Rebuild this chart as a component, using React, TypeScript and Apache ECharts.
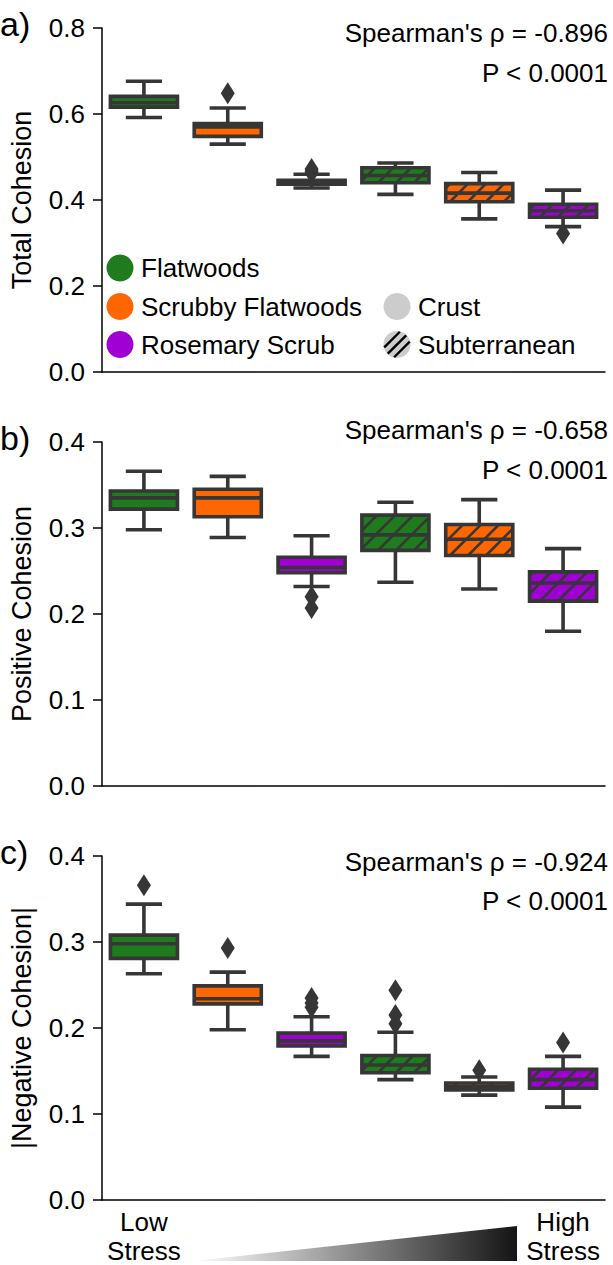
import React, { useEffect, useRef } from 'react';
import * as echarts from 'echarts';

// ---------- data ----------
const categories = [
  'Flatwoods Crust',
  'Scrubby Flatwoods Crust',
  'Rosemary Scrub Crust',
  'Flatwoods Subterranean',
  'Scrubby Flatwoods Subterranean',
  'Rosemary Scrub Subterranean',
];
const xTickLabels = ['Low\nStress', '', '', '', '', 'High\nStress'];

// [min, q1, median, q3, max]
const totalBoxes = [
  [0.592, 0.616, 0.626, 0.641, 0.676],
  [0.530, 0.548, 0.570, 0.578, 0.614],
  [0.428, 0.437, 0.441, 0.446, 0.460],
  [0.413, 0.440, 0.457, 0.475, 0.486],
  [0.356, 0.396, 0.416, 0.438, 0.464],
  [0.338, 0.360, 0.375, 0.390, 0.423],
];
const totalOutliers = [
  [1, 0.648],
  [2, 0.472],
  [2, 0.467],
  [2, 0.463],
  [5, 0.322],
];

const positiveBoxes = [
  [0.298, 0.322, 0.335, 0.343, 0.366],
  [0.289, 0.313, 0.335, 0.345, 0.360],
  [0.232, 0.248, 0.254, 0.266, 0.291],
  [0.237, 0.274, 0.292, 0.315, 0.330],
  [0.229, 0.268, 0.287, 0.304, 0.333],
  [0.180, 0.215, 0.236, 0.249, 0.276],
];
const positiveOutliers = [
  [2, 0.220],
  [2, 0.207],
];

const negativeBoxes = [
  [0.263, 0.281, 0.298, 0.308, 0.344],
  [0.198, 0.228, 0.234, 0.249, 0.265],
  [0.167, 0.179, 0.185, 0.194, 0.213],
  [0.140, 0.148, 0.157, 0.168, 0.195],
  [0.122, 0.128, 0.132, 0.136, 0.143],
  [0.108, 0.130, 0.140, 0.152, 0.167],
];
const negativeOutliers = [
  [0, 0.366],
  [1, 0.293],
  [2, 0.235],
  [2, 0.229],
  [2, 0.224],
  [3, 0.244],
  [3, 0.215],
  [3, 0.205],
  [4, 0.151],
  [5, 0.183],
];

const habitatNames = ['Flatwoods', 'Scrubby Flatwoods', 'Rosemary Scrub'];
const habitatColors = ['#1e7b1e', '#ff6600', '#a100d4'];
const layerNames = ['Crust', 'Subterranean'];

const panelLabels = ['a)', 'b)', 'c)'];
const yNames = ['Total Cohesion', 'Positive Cohesion', '|Negative Cohesion|'];
const yMax = [0.8, 0.4, 0.4];
const yStep = [0.2, 0.1, 0.1];
const rhoTexts = ["Spearman's ρ = -0.896", "Spearman's ρ = -0.658", "Spearman's ρ = -0.924"];
const pTexts = ['P < 0.0001', 'P < 0.0001', 'P < 0.0001'];

// ---------- styling ----------
const FONT = '"Liberation Sans", Arial, Helvetica, sans-serif';
const EDGE = '#363636';
const LW = 3.6;
const HATCH = 18;
const GRID_LEFT = 95;
const GRID_W = 510;
const GRID_H = 344;
const GRID_TOPS = [28, 442, 856];
const RHO_DY = [5, -12, 6];
const P_DY = [45, 28, 45];

function renderBox(params: any, api: any) {
  const i = api.value(0);
  const pMin = api.coord([i, api.value(1)]);
  const xc = pMin[0];
  const yMin = pMin[1];
  const yQ1 = api.coord([i, api.value(2)])[1];
  const yMed = api.coord([i, api.value(3)])[1];
  const yQ3 = api.coord([i, api.value(4)])[1];
  const yMx = api.coord([i, api.value(5)])[1];
  const band = api.size([1, 0])[0];
  const w = band * 0.8;
  const x0 = xc - w / 2;
  const x1 = xc + w / 2;
  const cap = w * 0.27;
  const color = habitatColors[i % 3];
  const hatched = i >= 3;
  const ls = { stroke: EDGE, lineWidth: LW, fill: 'none' };
  const h = yQ1 - yQ3;
  const children: any[] = [
    { type: 'line', shape: { x1: xc, y1: yMx, x2: xc, y2: yQ3 }, style: ls },
    { type: 'line', shape: { x1: xc, y1: yQ1, x2: xc, y2: yMin }, style: ls },
    { type: 'line', shape: { x1: xc - cap, y1: yMx, x2: xc + cap, y2: yMx }, style: ls },
    { type: 'line', shape: { x1: xc - cap, y1: yMin, x2: xc + cap, y2: yMin }, style: ls },
    { type: 'rect', shape: { x: x0, y: yQ3, width: w, height: h }, style: { fill: color, stroke: 'none' } },
  ];
  if (hatched) {
    const start = Math.floor((x0 - h) / HATCH) * HATCH;
    for (let xb = start; xb < x1; xb += HATCH) {
      const tMin = Math.max(0, x0 - xb);
      const tMax = Math.min(h, x1 - xb);
      if (tMax > tMin) {
        children.push({
          type: 'line',
          shape: { x1: xb + tMin, y1: yQ1 - tMin, x2: xb + tMax, y2: yQ1 - tMax },
          style: { stroke: EDGE, lineWidth: 2.6 },
        });
      }
    }
  }
  children.push({ type: 'rect', shape: { x: x0, y: yQ3, width: w, height: h }, style: { fill: 'none', stroke: EDGE, lineWidth: LW } });
  children.push({ type: 'line', shape: { x1: x0, y1: yMed, x2: x1, y2: yMed }, style: ls });
  return { type: 'group', children };
}

function buildOption() {
  const allBoxes = [totalBoxes, positiveBoxes, negativeBoxes];
  const allOutliers = [totalOutliers, positiveOutliers, negativeOutliers];
  const grid = GRID_TOPS.map((t) => ({ left: GRID_LEFT, width: GRID_W, top: t, height: GRID_H }));
  const xAxis = GRID_TOPS.map((_, k) => ({
    type: 'category',
    gridIndex: k,
    data: categories,
    boundaryGap: true,
    axisLine: { lineStyle: { color: '#000', width: 1.5 } },
    axisTick: { alignWithLabel: true, interval: 0, length: 9, lineStyle: { color: '#000', width: 1.5 } },
    axisLabel: {
      show: k === 2,
      interval: 0,
      margin: 7,
      fontSize: 26,
      lineHeight: 29,
      color: '#000',
      fontFamily: FONT,
      formatter: (_v: string, idx: number) => xTickLabels[idx],
    },
    splitLine: { show: false },
  }));
  const yAxis = GRID_TOPS.map((_, k) => ({
    type: 'value',
    gridIndex: k,
    min: 0,
    max: yMax[k],
    interval: yStep[k],
    name: yNames[k],
    nameLocation: 'middle',
    nameGap: 67,
    nameTextStyle: { fontSize: 27, color: '#000', fontFamily: FONT },
    axisLine: { show: true, lineStyle: { color: '#000', width: 1.5 } },
    axisTick: { show: true, length: 9, lineStyle: { color: '#000', width: 1.5 } },
    axisLabel: { margin: 17, fontSize: 26, color: '#000', fontFamily: FONT, formatter: (v: number) => v.toFixed(1) },
    splitLine: { show: false },
  }));
  const series: any[] = [];
  GRID_TOPS.forEach((_, k) => {
    series.push({
      type: 'custom',
      xAxisIndex: k,
      yAxisIndex: k,
      renderItem: renderBox,
      data: allBoxes[k].map((b, i) => [i, ...b]),
      encode: { x: 0, y: [1, 2, 3, 4, 5] },
      clip: false,
      z: 2,
    });
    series.push({
      type: 'scatter',
      xAxisIndex: k,
      yAxisIndex: k,
      data: allOutliers[k],
      symbol: 'diamond',
      symbolSize: [14, 22],
      itemStyle: { color: EDGE, opacity: 1 },
      z: 3,
    });
  });

  const elements: any[] = [];
  GRID_TOPS.forEach((t, k) => {
    elements.push({
      type: 'text', x: 0, y: t - 4,
      style: { text: panelLabels[k], fontSize: 34, fontFamily: FONT, fill: '#000', align: 'left', verticalAlign: 'middle' },
    });
    elements.push({
      type: 'text', x: 608, y: t + RHO_DY[k],
      style: { text: rhoTexts[k], fontSize: 26, fontFamily: FONT, fill: '#000', align: 'right', verticalAlign: 'middle' },
    });
    elements.push({
      type: 'text', x: 608, y: t + P_DY[k],
      style: { text: pTexts[k], fontSize: 26, fontFamily: FONT, fill: '#000', align: 'right', verticalAlign: 'middle' },
    });
  });

  // legend
  const legY = [268, 306.5, 344.5];
  habitatNames.forEach((n, i) => {
    elements.push({ type: 'circle', shape: { cx: 120, cy: legY[i], r: 13.5 }, style: { fill: habitatColors[i] } });
    elements.push({
      type: 'text', x: 141, y: legY[i],
      style: { text: n, fontSize: 26, fontFamily: FONT, fill: '#000', align: 'left', verticalAlign: 'middle' },
    });
  });
  const lcx = 397;
  const r = 13.5;
  elements.push({ type: 'circle', shape: { cx: lcx, cy: legY[1], r }, style: { fill: '#cccccc' } });
  elements.push({ type: 'circle', shape: { cx: lcx, cy: legY[2], r }, style: { fill: '#cccccc' } });
  [-7, 0, 7].forEach((d) => {
    const px = lcx + d / Math.SQRT2;
    const py = legY[2] + d / Math.SQRT2;
    const L = Math.sqrt(r * r - d * d) - 0.5;
    const ux = 1 / Math.SQRT2;
    const uy = -1 / Math.SQRT2;
    elements.push({
      type: 'line',
      shape: { x1: px - L * ux, y1: py - L * uy, x2: px + L * ux, y2: py + L * uy },
      style: { stroke: '#000', lineWidth: 2.4 },
    });
  });
  layerNames.forEach((n, i) => {
    elements.push({
      type: 'text', x: 418, y: legY[i + 1],
      style: { text: n, fontSize: 26, fontFamily: FONT, fill: '#000', align: 'left', verticalAlign: 'middle' },
    });
  });

  // stress gradient wedge
  elements.push({
    type: 'polygon',
    shape: { points: [[194, 1261], [517, 1261], [517, 1226]] },
    style: {
      fill: {
        type: 'linear', x: 0, y: 0, x2: 1, y2: 0, global: false,
        colorStops: [
          { offset: 0, color: '#ffffff' },
          { offset: 1, color: '#141414' },
        ],
      },
    },
  });

  return {
    animation: false,
    backgroundColor: '#ffffff',
    grid,
    xAxis,
    yAxis,
    series,
    graphic: { elements },
  };
}

export default function App() {
  const ref = useRef<HTMLDivElement>(null);
  useEffect(() => {
    if (!ref.current) return;
    const chart = echarts.init(ref.current, undefined, { renderer: 'svg' });
    chart.setOption(buildOption() as any);
    return () => chart.dispose();
  }, []);
  return <div ref={ref} style={{ position: 'absolute', left: 0, top: 0, width: 613, height: 1265 }} />;
}
